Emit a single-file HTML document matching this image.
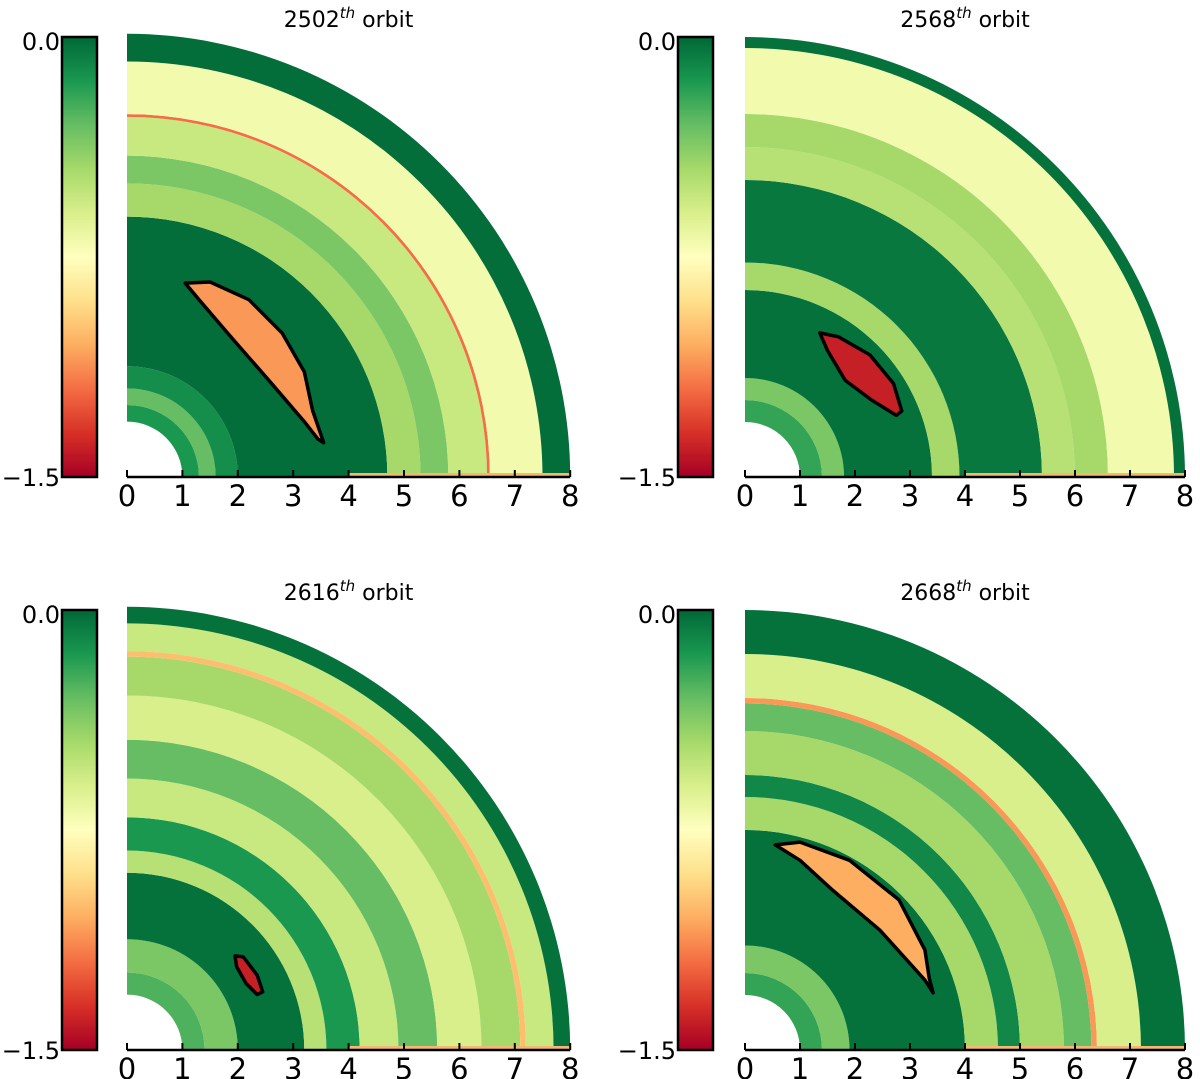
<!DOCTYPE html>
<html><head><meta charset="utf-8"><style>
html,body{margin:0;padding:0;background:#fff;}
svg{display:block;font-family:"DejaVu Sans","Liberation Sans",sans-serif;}
</style></head><body>
<svg id="fig" width="1200" height="1079" viewBox="0 0 1200 1079" xmlns="http://www.w3.org/2000/svg">
<defs>
<linearGradient id="cmap" x1="0" y1="1" x2="0" y2="0">
<stop offset="0" stop-color="#a50026"/><stop offset="0.1" stop-color="#d73027"/><stop offset="0.2" stop-color="#f46d43"/><stop offset="0.3" stop-color="#fdae61"/><stop offset="0.4" stop-color="#fee08b"/><stop offset="0.5" stop-color="#ffffbf"/><stop offset="0.6" stop-color="#d9ef8b"/><stop offset="0.7" stop-color="#a6d96a"/><stop offset="0.8" stop-color="#66bd63"/><stop offset="0.9" stop-color="#1a9850"/><stop offset="1" stop-color="#006837"/>
</linearGradient>
</defs>
</svg>
<script>
// ring data per panel: [rInner, rOuter, value]
const rings1 = [[1,1.3,-0.15],[1.3,1.6,-0.3],[1.6,2.0,-0.12],[2.0,4.7,-0.02],[4.7,5.3,-0.45],[5.3,5.8,-0.35],[5.8,6.5,-0.55],[6.5,6.55,-1.2],[6.55,7.5,-0.7],[7.5,8,-0.02]];
const rings2 = [[1,1.4,-0.2],[1.4,1.8,-0.35],[1.8,3.4,-0.03],[3.4,3.9,-0.45],[3.9,5.4,-0.05],[5.4,6.0,-0.5],[6.0,6.6,-0.45],[6.6,7.8,-0.7],[7.8,8,-0.03]];
const rings3 = [[1,1.4,-0.25],[1.4,2.0,-0.35],[2.0,3.2,-0.03],[3.2,3.6,-0.5],[3.6,4.2,-0.15],[4.2,4.9,-0.55],[4.9,5.6,-0.3],[5.6,6.4,-0.6],[6.4,7.1,-0.45],[7.1,7.2,-1.0],[7.2,7.7,-0.55],[7.7,8,-0.03]];
const rings4 = [[1,1.4,-0.2],[1.4,1.9,-0.35],[1.9,4.0,-0.03],[4.0,4.6,-0.45],[4.6,5.0,-0.1],[5.0,5.8,-0.45],[5.8,6.3,-0.3],[6.3,6.4,-1.1],[6.4,7.2,-0.6],[7.2,8,-0.03]];
// blob contours in data units (x,y)
const blob1 = [[1.05,3.5],[1.5,3.52],[2.2,3.2],[2.8,2.6],[3.2,1.9],[3.35,1.2],[3.55,0.62],[3.45,0.68],[3.2,1.0],[2.6,1.7],[1.9,2.5],[1.3,3.2],[1.05,3.5]];
const blob2 = [[1.36,2.62],[1.7,2.55],[2.27,2.22],[2.7,1.7],[2.85,1.2],[2.75,1.12],[2.3,1.4],[1.82,1.76],[1.5,2.3],[1.36,2.62]];
const blob3 = [[1.95,1.7],[2.1,1.68],[2.35,1.35],[2.45,1.05],[2.35,1.0],[2.15,1.2],[1.98,1.5],[1.95,1.7]];
const blob4 = [[0.55,3.73],[1.0,3.78],[1.9,3.45],[2.8,2.73],[3.27,1.82],[3.35,1.3],[3.42,1.04],[3.27,1.27],[2.45,2.18],[1.6,2.9],[1.0,3.45],[0.55,3.73]];
const blobVals = [-1.1,-1.4,-1.4,-1.05];
const titles = ["2502","2568","2616","2668"];
const xTicks = [0,1,2,3,4,5,6,7,8];
const cbTicks = ["0.0","\u22121.5"];

const stops=[[0,'#a50026'],[.1,'#d73027'],[.2,'#f46d43'],[.3,'#fdae61'],[.4,'#fee08b'],[.5,'#ffffbf'],[.6,'#d9ef8b'],[.7,'#a6d96a'],[.8,'#66bd63'],[.9,'#1a9850'],[1,'#006837']];
function hex(h){return [1,3,5].map(i=>parseInt(h.substr(i,2),16));}
function cmap(v){let t=Math.max(0,Math.min(1,(v+1.5)/1.5));for(let i=1;i<stops.length;i++){if(t<=stops[i][0]){const a=stops[i-1],b=stops[i];const f=(t-a[0])/(b[0]-a[0]);const ca=hex(a[1]),cb=hex(b[1]);return 'rgb('+ca.map((c,k)=>Math.round(c+(cb[k]-c)*f)).join(',')+')';}}return stops[10][1];}
const NS='http://www.w3.org/2000/svg';
const svg=document.getElementById('fig');
function mk(tag,attrs,parent){const e=document.createElementNS(NS,tag);for(const k in attrs)e.setAttribute(k,attrs[k]);(parent||svg).appendChild(e);return e;}
const panels=[{cx:127,cy:477,s:55.4,cbx:62,rings:rings1,blob:blob1},{cx:745,cy:477,s:55,cbx:678,rings:rings2,blob:blob2},{cx:127,cy:1050,s:55.4,cbx:62,rings:rings3,blob:blob3},{cx:745,cy:1050,s:55,cbx:678,rings:rings4,blob:blob4}];
panels.forEach((p,i)=>{
  const g=mk('g',{});
  
  
  const X=x=>p.cx+x*p.s, Y=y=>p.cy-y*p.s;
  p.rings.forEach((r,j)=>{
    const a=r[0]*p.s,b=r[1]*p.s;
    const d=`M${p.cx+a},${p.cy} L${p.cx+b},${p.cy} A${b},${b} 0 0 0 ${p.cx},${p.cy-b} L${p.cx},${p.cy-a} A${a},${a} 0 0 1 ${p.cx+a},${p.cy} Z`;
    const e=mk('path',{d:d,fill:cmap(r[2])},g);
    
    
  });
  const strip=mk('rect',{x:X(4),y:p.cy-4,width:4*p.s,height:3,fill:'#f5b870'},g);
  
  
  const pts=p.blob.map(q=>X(q[0]).toFixed(1)+','+Y(q[1]).toFixed(1)).join(' ');
  const bl=mk('polygon',{points:pts,fill:cmap(blobVals[i]),stroke:'#000','stroke-width':3.5,'stroke-linejoin':'round'},g);
  
  
  const ax=mk('line',{x1:X(0),y1:p.cy,x2:X(8),y2:p.cy,stroke:'#000','stroke-width':2.5},g);
  
  
  xTicks.forEach(t=>{
    mk('line',{x1:X(t),y1:p.cy,x2:X(t),y2:p.cy-7,stroke:'#000','stroke-width':2},g);
    const tx=mk('text',{x:X(t),y:p.cy+29,'font-size':29,'text-anchor':'middle'},g);
    tx.textContent=t;
    
    
  });
  const top=p.cy-440;
  const cb=mk('rect',{x:p.cbx,y:top,width:35,height:440,fill:'url(#cmap)',stroke:'#000','stroke-width':2.5},g);
  
  
  const l0=mk('text',{x:p.cbx-2,y:top+13,'font-size':24,'text-anchor':'end'},g);
  l0.textContent=cbTicks[0];
  
  
  const l1=mk('text',{x:p.cbx-2,y:p.cy+9,'font-size':24,'text-anchor':'end'},g);
  l1.textContent=cbTicks[1];
  
  
  const tt=mk('text',{x:X(4)+0,y:top-10,'font-size':22,'text-anchor':'middle'},g);
  tt.innerHTML=titles[i]+'<tspan dy="-9" font-size="15" font-style="italic">th</tspan><tspan dy="9"> orbit</tspan>';
  
  
});
</script>
</body></html>
